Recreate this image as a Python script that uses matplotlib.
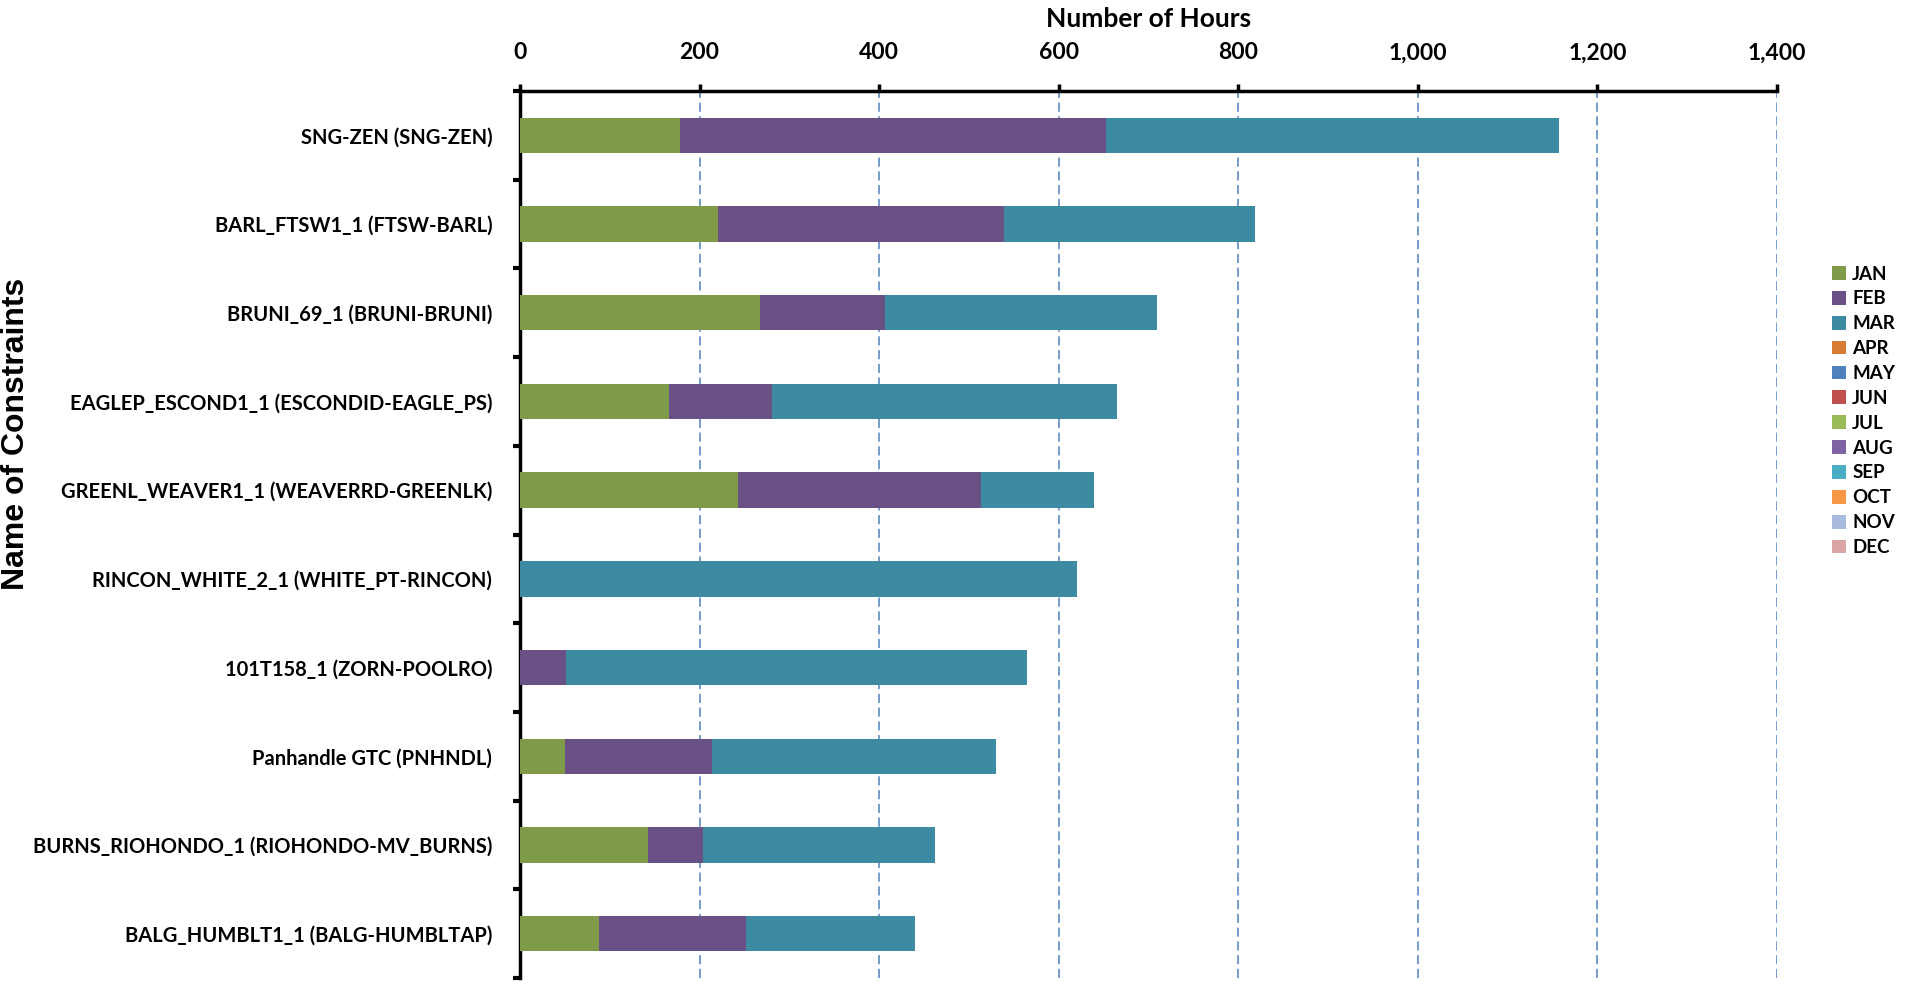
import matplotlib
matplotlib.use("Agg")
import matplotlib.pyplot as plt
import numpy as np

# constraint names, top to bottom
constraints = [
    "SNG-ZEN (SNG-ZEN)",
    "BARL_FTSW1_1 (FTSW-BARL)",
    "BRUNI_69_1 (BRUNI-BRUNI)",
    "EAGLEP_ESCOND1_1 (ESCONDID-EAGLE_PS)",
    "GREENL_WEAVER1_1 (WEAVERRD-GREENLK)",
    "RINCON_WHITE_2_1 (WHITE_PT-RINCON)",
    "101T158_1 (ZORN-POOLRO)",
    "Panhandle GTC (PNHNDL)",
    "BURNS_RIOHONDO_1 (RIOHONDO-MV_BURNS)",
    "BALG_HUMBLT1_1 (BALG-HUMBLTAP)",
]

months = ["JAN", "FEB", "MAR", "APR", "MAY", "JUN",
          "JUL", "AUG", "SEP", "OCT", "NOV", "DEC"]

# hours per month (only Jan-Mar have data)
jan = [178, 220, 267, 166, 243, 0, 0, 50, 143, 88]
feb = [475, 319, 139, 115, 271, 0, 51, 164, 61, 164]
mar = [504, 280, 303, 384, 125, 620, 514, 316, 258, 188]
zeros = [0] * len(constraints)
hours = [jan, feb, mar] + [zeros] * 9

colors = ["#7F9A48", "#6A5185", "#3C8BA3", "#D67B34", "#4F81BD", "#C0504D",
          "#9BBB59", "#8064A2", "#4BACC6", "#F79646", "#A9BCE0", "#D9A6A5"]

plt.rcParams['font.family'] = ['Lato', 'DejaVu Sans']
plt.rcParams['font.weight'] = 'bold'

fig = plt.figure(figsize=(19.05, 9.85), dpi=100)
ax = fig.add_axes([520 / 1905, 1 - 978 / 985, (1777 - 520) / 1905, (978 - 91) / 985])

y = np.arange(len(constraints))
left = np.zeros(len(constraints))
handles = []
for m, vals, c in zip(months, hours, colors):
    vals = np.array(vals, dtype=float)
    b = ax.barh(y, vals, left=left, height=0.4, color=c, label=m, zorder=3)
    handles.append(b)
    left += vals

ax.set_xlim(0, 1400)
ax.set_ylim(len(constraints) - 0.5, -0.5)

# x axis on top
ax.xaxis.set_ticks_position('top')
ax.xaxis.set_label_position('top')
ax.set_xticks(np.arange(0, 1401, 200))
ax.set_xticklabels([f"{v:,}" for v in range(0, 1401, 200)], fontsize=16.5, fontweight='bold')
ax.tick_params(axis='x', direction='out', length=5, width=2.5, pad=15)
ax.set_xlabel("Number of Hours", fontsize=19, fontweight='bold', labelpad=11)

# y labels at centres, tick marks at boundaries
ax.set_yticks(y)
ax.set_yticklabels(constraints, fontsize=14.5, fontweight='bold')
ax.tick_params(axis='y', which='major', length=0, pad=20)
ax.set_yticks(np.arange(-0.5, len(constraints)), minor=True)
ax.tick_params(axis='y', which='minor', direction='out', length=5, width=3)

for s in ['bottom', 'right']:
    ax.spines[s].set_visible(False)
for s in ['top', 'left']:
    ax.spines[s].set_linewidth(2.5)
    ax.spines[s].set_color('black')

# dashed vertical gridlines
for v in range(200, 1401, 200):
    ax.axvline(v, color='#4F81BD', lw=1.1, ls=(0, (6, 3)), zorder=1)

fig.text(16 / 1905, 1 - 434 / 985, "Name of Constraints", rotation=90,
         ha='center', va='center', fontsize=23, fontweight='bold',
         family=['Liberation Sans', 'DejaVu Sans'])

fig.legend(handles=handles, labels=months, loc='upper left',
           bbox_to_anchor=(1824 / 1905, 1 - 258 / 985), frameon=False,
           fontsize=13.5, handlelength=0.75, handleheight=0.75, handletextpad=0.35,
           labelspacing=0.42, borderaxespad=0)

fig.savefig("out.png", dpi=100)
